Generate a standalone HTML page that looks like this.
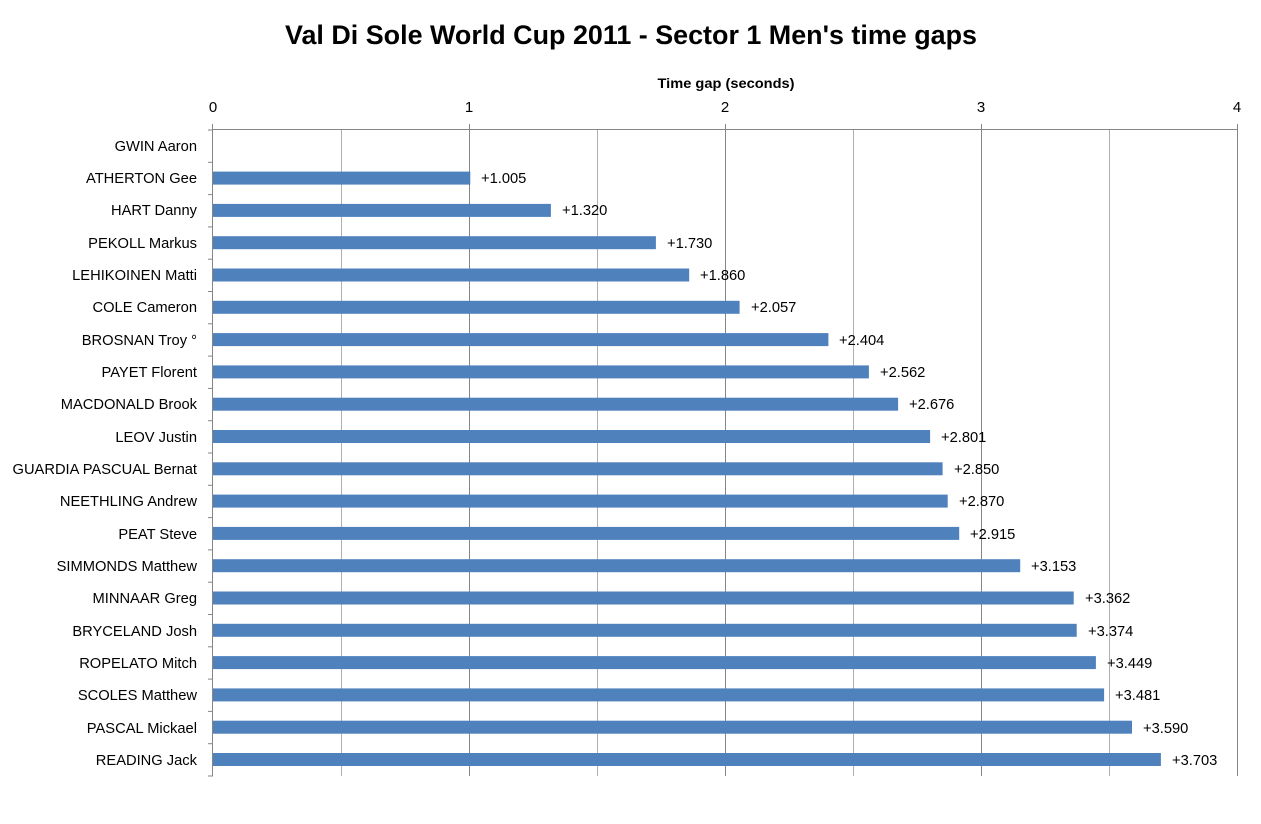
<!DOCTYPE html>
<html><head><meta charset="utf-8"><style>
html,body{margin:0;padding:0;background:#fff;}
svg{display:block;font-family:"Liberation Sans",sans-serif;}
</style></head><body>
<svg width="1261" height="824" viewBox="0 0 1261 824" xmlns="http://www.w3.org/2000/svg">
<text x="631" y="44" text-anchor="middle" font-size="27" font-weight="bold" fill="#000" textLength="692" lengthAdjust="spacingAndGlyphs">Val Di Sole World Cup 2011 - Sector 1 Men's time gaps</text>
<text x="726" y="88" text-anchor="middle" font-size="14" font-weight="bold" fill="#000" textLength="137" lengthAdjust="spacingAndGlyphs">Time gap (seconds)</text>
<g font-size="15" fill="#000" text-anchor="middle">
<text x="213" y="112">0</text><text x="469" y="112">1</text><text x="725" y="112">2</text><text x="981" y="112">3</text><text x="1237" y="112">4</text>
</g>
<g stroke="#b0b0b0" stroke-width="1">
<line x1="341.5" y1="130" x2="341.5" y2="776"/><line x1="597.5" y1="130" x2="597.5" y2="776"/><line x1="853.5" y1="130" x2="853.5" y2="776"/><line x1="1109.5" y1="130" x2="1109.5" y2="776"/>
</g>
<g stroke="#868686" stroke-width="1">
<line x1="469.5" y1="124" x2="469.5" y2="776"/><line x1="725.5" y1="124" x2="725.5" y2="776"/><line x1="981.5" y1="124" x2="981.5" y2="776"/><line x1="1237.5" y1="124" x2="1237.5" y2="776"/>
<line x1="213" y1="129.5" x2="1238" y2="129.5"/>
<line x1="212.5" y1="124" x2="212.5" y2="776"/>
<line x1="208" y1="130" x2="213" y2="130"/><line x1="208" y1="162.3" x2="213" y2="162.3"/><line x1="208" y1="194.6" x2="213" y2="194.6"/><line x1="208" y1="226.9" x2="213" y2="226.9"/><line x1="208" y1="259.2" x2="213" y2="259.2"/><line x1="208" y1="291.5" x2="213" y2="291.5"/><line x1="208" y1="323.8" x2="213" y2="323.8"/><line x1="208" y1="356.1" x2="213" y2="356.1"/><line x1="208" y1="388.4" x2="213" y2="388.4"/><line x1="208" y1="420.7" x2="213" y2="420.7"/><line x1="208" y1="453" x2="213" y2="453"/><line x1="208" y1="485.3" x2="213" y2="485.3"/><line x1="208" y1="517.6" x2="213" y2="517.6"/><line x1="208" y1="549.9" x2="213" y2="549.9"/><line x1="208" y1="582.2" x2="213" y2="582.2"/><line x1="208" y1="614.5" x2="213" y2="614.5"/><line x1="208" y1="646.8" x2="213" y2="646.8"/><line x1="208" y1="679.1" x2="213" y2="679.1"/><line x1="208" y1="711.4" x2="213" y2="711.4"/><line x1="208" y1="743.7" x2="213" y2="743.7"/><line x1="208" y1="776" x2="213" y2="776"/>
</g>
<g fill="#4f81bd">
<rect x="213" y="171.6" width="257.3" height="13"/>
<rect x="213" y="203.9" width="337.9" height="13"/>
<rect x="213" y="236.2" width="442.9" height="13"/>
<rect x="213" y="268.5" width="476.2" height="13"/>
<rect x="213" y="300.8" width="526.6" height="13"/>
<rect x="213" y="333.1" width="615.4" height="13"/>
<rect x="213" y="365.4" width="655.9" height="13"/>
<rect x="213" y="397.7" width="685.1" height="13"/>
<rect x="213" y="430" width="717.1" height="13"/>
<rect x="213" y="462.3" width="729.6" height="13"/>
<rect x="213" y="494.6" width="734.7" height="13"/>
<rect x="213" y="526.9" width="746.2" height="13"/>
<rect x="213" y="559.2" width="807.2" height="13"/>
<rect x="213" y="591.5" width="860.7" height="13"/>
<rect x="213" y="623.8" width="863.7" height="13"/>
<rect x="213" y="656.1" width="882.9" height="13"/>
<rect x="213" y="688.4" width="891.1" height="13"/>
<rect x="213" y="720.7" width="919.0" height="13"/>
<rect x="213" y="753" width="947.9" height="13"/>
</g>
<g font-size="14.7" fill="#000" text-anchor="end">
<text x="197" y="151">GWIN Aaron</text>
<text x="197" y="183">ATHERTON Gee</text>
<text x="197" y="215">HART Danny</text>
<text x="197" y="248">PEKOLL Markus</text>
<text x="197" y="280">LEHIKOINEN Matti</text>
<text x="197" y="312">COLE Cameron</text>
<text x="197" y="345">BROSNAN Troy °</text>
<text x="197" y="377">PAYET Florent</text>
<text x="197" y="409">MACDONALD Brook</text>
<text x="197" y="442">LEOV Justin</text>
<text x="197" y="474">GUARDIA PASCUAL Bernat</text>
<text x="197" y="506">NEETHLING Andrew</text>
<text x="197" y="539">PEAT Steve</text>
<text x="197" y="571">SIMMONDS Matthew</text>
<text x="197" y="603">MINNAAR Greg</text>
<text x="197" y="636">BRYCELAND Josh</text>
<text x="197" y="668">ROPELATO Mitch</text>
<text x="197" y="700">SCOLES Matthew</text>
<text x="197" y="733">PASCAL Mickael</text>
<text x="197" y="765">READING Jack</text>
</g>
<g font-size="14.7" fill="#000">
<text x="481" y="183">+1.005</text>
<text x="562" y="215">+1.320</text>
<text x="667" y="248">+1.730</text>
<text x="700" y="280">+1.860</text>
<text x="751" y="312">+2.057</text>
<text x="839" y="345">+2.404</text>
<text x="880" y="377">+2.562</text>
<text x="909" y="409">+2.676</text>
<text x="941" y="442">+2.801</text>
<text x="954" y="474">+2.850</text>
<text x="959" y="506">+2.870</text>
<text x="970" y="539">+2.915</text>
<text x="1031" y="571">+3.153</text>
<text x="1085" y="603">+3.362</text>
<text x="1088" y="636">+3.374</text>
<text x="1107" y="668">+3.449</text>
<text x="1115" y="700">+3.481</text>
<text x="1143" y="733">+3.590</text>
<text x="1172" y="765">+3.703</text>
</g>
</svg>
</body></html>
